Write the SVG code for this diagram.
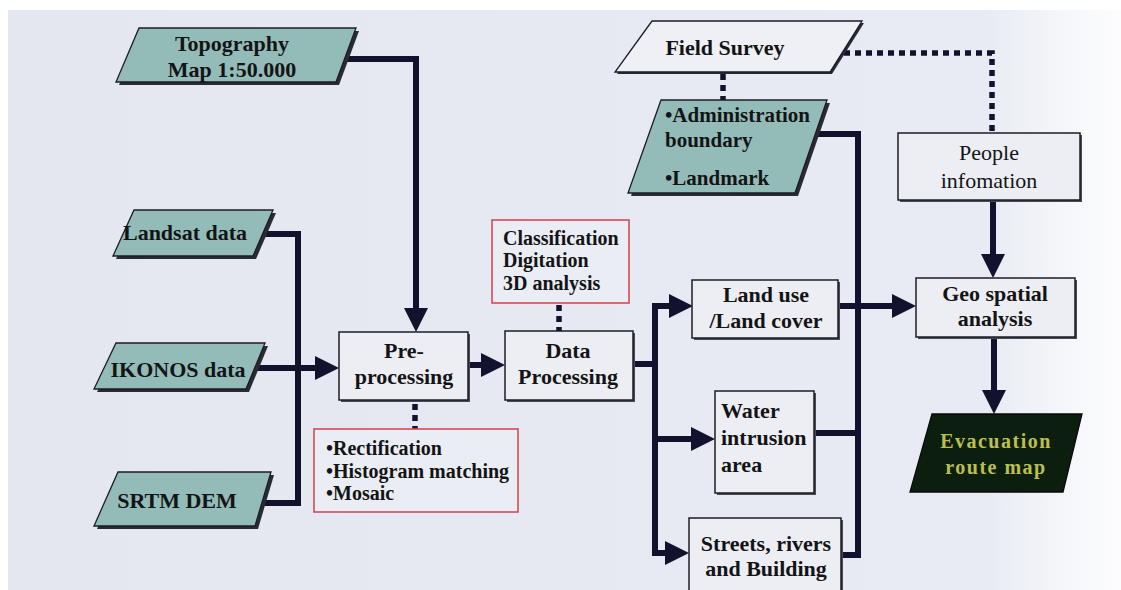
<svg xmlns="http://www.w3.org/2000/svg" width="1121" height="590" viewBox="0 0 1121 590">
<defs>
<linearGradient id="bg" gradientUnits="userSpaceOnUse" x1="8" y1="0" x2="1121" y2="0">
<stop offset="0" stop-color="#e4e7ef"/>
<stop offset="0.88" stop-color="#e8ebf3"/>
<stop offset="0.94" stop-color="#f3f5f9"/>
<stop offset="1" stop-color="#fdfdfe"/>
</linearGradient>
<marker id="arr" markerUnits="userSpaceOnUse" markerWidth="26" markerHeight="26" refX="0" refY="12" orient="auto" overflow="visible">
<path d="M0,0 L24,12 L0,24 Z" fill="#12122e"/>
</marker>
<style>
.t{font-family:"Liberation Serif","Times New Roman",serif;font-weight:bold;font-size:22px;fill:#141414}
.s{font-size:20px}
.a{font-size:21px}
.r{font-weight:normal;font-size:22px}
.m{text-anchor:middle}
.para{fill:#93bcb8;stroke:#1c1c24;stroke-width:1.3}
.paraw{fill:#eef0f5;stroke:#1c1c24;stroke-width:1.3}
.sh{fill:#2a2a33}
.box{fill:#eceef4;stroke:#1c1c24;stroke-width:1.5}
.bsh{fill:#4a4a55}
.red{fill:#eaedf4;stroke:#d24a58;stroke-width:1.6}
.c{fill:none;stroke:#12122e;stroke-width:6}
.d{fill:none;stroke:#12122e;stroke-width:5.5;stroke-dasharray:6 5}
</style>
</defs>
<rect width="1121" height="590" fill="#ffffff"/>
<rect x="8" y="10" width="1113" height="580" fill="url(#bg)"/>

<g id="connectors">
<path class="c" d="M344,59 H416 V308" marker-end="url(#arr)"/>
<path class="c" d="M262,234 H298 V503 H259"/>
<path class="c" d="M255,368 H315" marker-end="url(#arr)"/>
<path class="c" d="M468,365 H481" marker-end="url(#arr)"/>
<path class="c" d="M633,364 H655"/>
<path class="c" d="M669,306 H655 V553 H665" marker-end="url(#arr)"/>
<path class="c" d="M655,306 H669" marker-end="url(#arr)"/>
<path class="c" d="M655,439 H691" marker-end="url(#arr)"/>
<path class="c" d="M815,134 H858 V555 H841"/>
<path class="c" d="M838,306 H892" marker-end="url(#arr)"/>
<path class="c" d="M814,433 H858"/>
<path class="c" d="M993,200 V254" marker-end="url(#arr)"/>
<path class="c" d="M994,337 V390" marker-end="url(#arr)"/>
<path class="d" d="M723,74 V100"/>
<path class="d" d="M844,53 H992 V133"/>
<path class="d" d="M415,404 V429"/>
<path class="d" d="M559,305 V331"/>
</g>

<g id="topography">
<polygon class="sh" points="142,31 359,31 339,85 119,85"/>
<polygon class="para" points="139,28 356,28 336,82 116,82"/>
<text class="t m" x="232" y="51">Topography</text>
<text class="t m" x="232" y="77">Map 1:50.000</text>
</g>

<g id="landsat">
<polygon class="sh" points="137,213 276,213 256,259 116,259"/>
<polygon class="para" points="134,210 273,210 253,256 113,256"/>
<text class="t m" x="185" y="240">Landsat data</text>
</g>

<g id="ikonos">
<polygon class="sh" points="119,346 268,346 249,392 97,392"/>
<polygon class="para" points="116,343 265,343 246,389 94,389"/>
<text class="t m" x="178" y="377">IKONOS data</text>
</g>

<g id="srtm">
<polygon class="sh" points="121,475 274,475 258,529 97,529"/>
<polygon class="para" points="118,472 271,472 255,526 94,526"/>
<text class="t m" x="177" y="508">SRTM DEM</text>
</g>

<g id="preprocessing">
<rect class="bsh" x="341" y="334" width="129" height="68"/>
<rect class="box" x="339" y="332" width="129" height="68"/>
<text class="t m" x="404" y="358">Pre-</text>
<text class="t m" x="404" y="384">processing</text>
</g>

<g id="rectification">
<rect class="red" x="314" y="429" width="204" height="83"/>
<text class="t s" x="326" y="455">•Rectification</text>
<text class="t s" x="326" y="478">•Histogram matching</text>
<text class="t s" x="326" y="500">•Mosaic</text>
</g>

<g id="classification">
<rect class="red" x="492" y="220" width="137" height="83"/>
<text class="t s" x="503" y="245">Classification</text>
<text class="t s" x="503" y="267">Digitation</text>
<text class="t s" x="503" y="290">3D analysis</text>
</g>

<g id="dataprocessing">
<rect class="bsh" x="507" y="333" width="128" height="69"/>
<rect class="box" x="505" y="331" width="128" height="69"/>
<text class="t m" x="568" y="358">Data</text>
<text class="t m" x="568" y="384">Processing</text>
</g>

<g id="landuse">
<rect class="bsh" x="694" y="282" width="146" height="58"/>
<rect class="box" x="692" y="280" width="146" height="58"/>
<text class="t m" x="766" y="302">Land use</text>
<text class="t m" x="766" y="328">/Land cover</text>
</g>

<g id="water">
<rect class="bsh" x="717" y="393" width="99" height="102"/>
<rect class="box" x="715" y="391" width="99" height="102"/>
<text class="t" x="721" y="418">Water</text>
<text class="t" x="721" y="445">intrusion</text>
<text class="t" x="721" y="472">area</text>
</g>

<g id="streets">
<rect class="bsh" x="691" y="520" width="152" height="80"/>
<rect class="box" x="689" y="518" width="152" height="80"/>
<text class="t m" x="766" y="551">Streets, rivers</text>
<text class="t m" x="766" y="576">and Building</text>
</g>

<g id="fieldsurvey">
<polygon class="sh" points="654,23 864,23 832,74 617,74"/>
<polygon class="paraw" points="652,21 862,21 830,72 615,72"/>
<text class="t m" x="725" y="55">Field Survey</text>
</g>

<g id="admin">
<polygon class="sh" points="664,103 830,103 798,196 631,196"/>
<polygon class="para" points="661,100 827,100 795,193 628,193"/>
<text class="t a" x="665" y="122">•Administration</text>
<text class="t a" x="665" y="147">boundary</text>
<text class="t a" x="665" y="185">•Landmark</text>
</g>

<g id="people">
<rect class="bsh" x="900" y="135" width="182" height="67"/>
<rect class="box" x="898" y="133" width="182" height="67"/>
<text class="t r m" x="989" y="160">People</text>
<text class="t r m" x="989" y="188">infomation</text>
</g>

<g id="geospatial">
<rect class="bsh" x="918" y="280" width="159" height="59"/>
<rect class="box" x="916" y="278" width="159" height="59"/>
<text class="t m" x="995" y="301">Geo spatial</text>
<text class="t m" x="995" y="326">analysis</text>
</g>

<g id="evacuation">
<polygon points="932,414 1082,414 1063,492 910,492" fill="#0c1f0f" stroke="#0a0a0a" stroke-width="1.3"/>
<text class="t m" x="996" y="448" style="fill:#bcbf4c;font-size:20px;letter-spacing:1.5px">Evacuation</text>
<text class="t m" x="996" y="474" style="fill:#bcbf4c;font-size:20px;letter-spacing:1.5px">route map</text>
</g>
</svg>
